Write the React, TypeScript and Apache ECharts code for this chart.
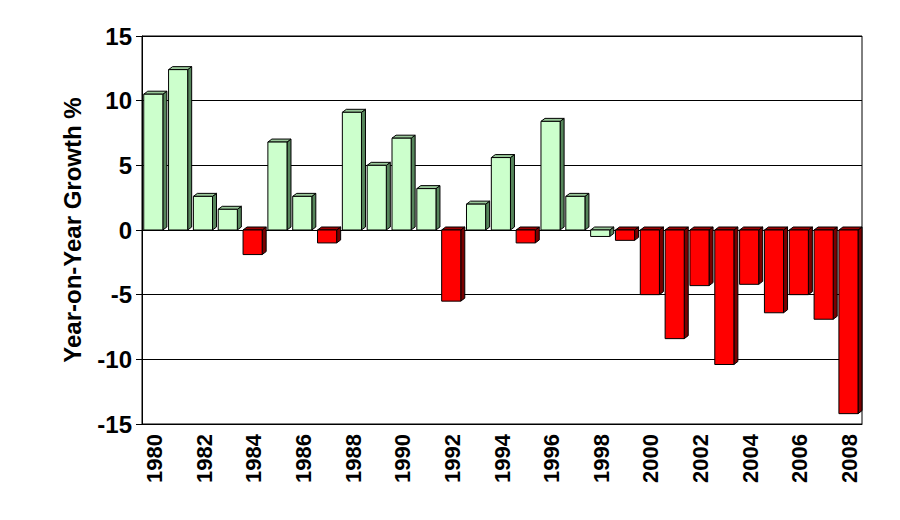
import React, { useEffect, useRef } from "react";
import * as echarts from "echarts";

const years = [
  "1980", "1981", "1982", "1983", "1984", "1985", "1986", "1987", "1988", "1989",
  "1990", "1991", "1992", "1993", "1994", "1995", "1996", "1997", "1998", "1999",
  "2000", "2001", "2002", "2003", "2004", "2005", "2006", "2007", "2008",
];

const growth = [
  10.5, 12.4, 2.6, 1.6, -1.9, 6.8, 2.6, -1.0, 9.1, 5.0,
  7.1, 3.2, -5.5, 2.0, 5.6, -1.0, 8.4, 2.6, -0.5, -0.8,
  -5.0, -8.4, -4.3, -10.4, -4.2, -6.4, -5.0, -6.9, -14.2,
];

// bar tone as drawn in the reference: "g" = light green, "r" = red
const tones = [
  "g", "g", "g", "g", "r", "g", "g", "r", "g", "g",
  "g", "g", "r", "g", "g", "r", "g", "g", "g", "r",
  "r", "r", "r", "r", "r", "r", "r", "r", "r",
];

const yTicks = { min: -15, max: 15, interval: 5 };
const yTitle = "Year-on-Year Growth %";

const palette: Record<string, { front: string; side: string; top: string }> = {
  g: { front: "#ccffcc", side: "#55855a", top: "#99c899" },
  r: { front: "#ff0000", side: "#7a0000", top: "#a00000" },
};

export default function App() {
  const ref = useRef<HTMLDivElement>(null);

  useEffect(() => {
    if (!ref.current) return;
    const chart = echarts.init(ref.current, null, { renderer: "svg" });
    const sans = "'Liberation Sans', Arial, sans-serif";

    chart.setOption({
      animation: false,
      backgroundColor: "#ffffff",
      grid: {
        left: 142,
        right: 38,
        top: 36,
        bottom: 96,
        show: true,
        borderColor: "#000",
        borderWidth: 1,
        backgroundColor: "rgba(0,0,0,0)",
      },
      xAxis: {
        type: "category",
        data: years,
        axisLine: { show: true, onZero: false, lineStyle: { color: "#000", width: 1 } },
        axisTick: { show: false },
        axisLabel: {
          interval: 1,
          rotate: 90,
          margin: 10,
          fontFamily: sans,
          fontWeight: "bold",
          fontSize: 22,
          color: "#000",
        },
        splitLine: { show: false },
      },
      yAxis: {
        type: "value",
        min: yTicks.min,
        max: yTicks.max,
        interval: yTicks.interval,
        name: yTitle,
        nameLocation: "middle",
        nameRotate: 90,
        nameGap: 58,
        nameTextStyle: {
          fontFamily: sans,
          fontWeight: "bold",
          fontSize: 24,
          color: "#000",
        },
        axisLine: { show: true, lineStyle: { color: "#000", width: 1 } },
        axisTick: { show: true, length: 6, lineStyle: { color: "#000" } },
        axisLabel: {
          margin: 10,
          fontFamily: sans,
          fontWeight: "bold",
          fontSize: 24,
          color: "#000",
        },
        splitLine: { show: true, lineStyle: { color: "#000", width: 1 } },
      },
      series: [
        {
          type: "custom",
          data: growth.map((v, i) => [i, v]),
          encode: { x: 0, y: 1 },
          renderItem: (params: any, api: any) => {
            const idx = api.value(0);
            const v = api.value(1);
            const base = api.coord([idx, 0]);
            const end = api.coord([idx, v]);
            const bw = api.size([1, 0])[0];
            const x0 = base[0] - bw * 0.43;
            const x1 = x0 + bw * 0.77;
            const yTop = Math.min(base[1], end[1]);
            const yBot = Math.max(base[1], end[1]);
            const dx = 4;
            const dy = 3;
            const c = palette[tones[idx]];
            const line = { stroke: "#000", lineWidth: 1 };
            return {
              type: "group",
              children: [
                {
                  type: "polygon",
                  shape: { points: [[x1, yTop], [x1 + dx, yTop - dy], [x1 + dx, yBot - dy], [x1, yBot]] },
                  style: { fill: c.side, ...line },
                },
                {
                  type: "polygon",
                  shape: { points: [[x0, yTop], [x0 + dx, yTop - dy], [x1 + dx, yTop - dy], [x1, yTop]] },
                  style: { fill: c.top, ...line },
                },
                {
                  type: "rect",
                  shape: { x: x0, y: yTop, width: x1 - x0, height: yBot - yTop },
                  style: { fill: c.front, ...line },
                },
              ],
            };
          },
        },
      ],
    });

    return () => chart.dispose();
  }, []);

  return (
    <div style={{ position: "absolute", left: 0, top: 0, width: 900, height: 520 }}>
      <div ref={ref} style={{ width: 900, height: 520 }} />
    </div>
  );
}
